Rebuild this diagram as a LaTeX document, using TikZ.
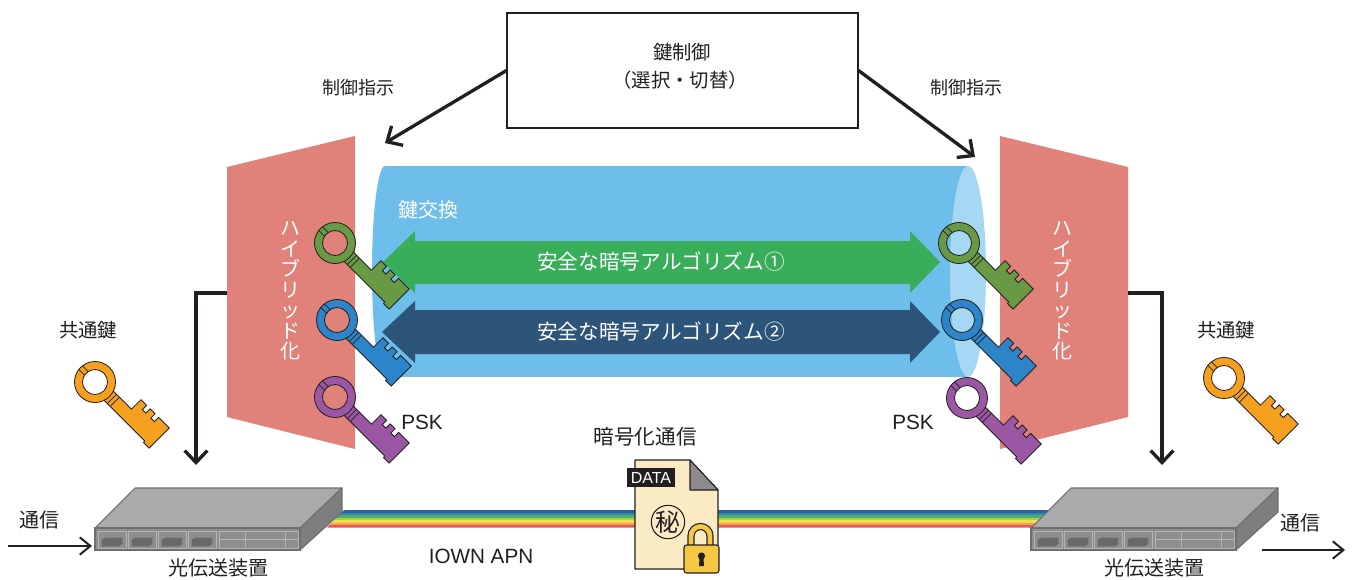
\documentclass[tikz,border=0pt]{standalone}
\usepackage{fontspec}
\setmainfont{Liberation Sans}
\newfontfamily\jp{Noto Sans CJK JP}
\usetikzlibrary{arrows.meta}

\definecolor{ink}{HTML}{231F20}
\definecolor{hybrid}{HTML}{E0817A}
\definecolor{tube}{HTML}{6DBEEA}
\definecolor{tubeend}{HTML}{A6D8F3}
\definecolor{algoA}{HTML}{38AE5B}
\definecolor{algoB}{HTML}{2D5479}
\definecolor{keygreen}{HTML}{689A45}
\definecolor{keyblue}{HTML}{2C85C8}
\definecolor{keypurple}{HTML}{9B57A4}
\definecolor{keyorange}{HTML}{F5A01F}
\definecolor{devtop}{HTML}{AAA9AB}
\definecolor{devfront}{HTML}{8E8D90}
\definecolor{devside}{HTML}{7E7D80}
\definecolor{devline}{HTML}{6E6E70}
\definecolor{devport}{HTML}{69686B}
\definecolor{devgrid}{HTML}{B4B3B6}
\definecolor{paper}{HTML}{FBEBC4}
\definecolor{fold}{HTML}{8C8C8C}
\definecolor{lockgold}{HTML}{F4C842}
\definecolor{fbA}{HTML}{2F5FA8}
\definecolor{fbB}{HTML}{2E8FA2}
\definecolor{fbC}{HTML}{4DAE68}
\definecolor{fbD}{HTML}{A9CF4F}
\definecolor{fbE}{HTML}{F0DF4A}
\definecolor{fbF}{HTML}{F3A447}
\definecolor{fbG}{HTML}{EA5470}

\tikzset{
  jplabel/.style={font=\jp\fontsize{14.5}{17}\selectfont, text=ink, inner sep=0pt},
  biglabel/.style={font=\jp\fontsize{15}{17}\selectfont, text=ink, inner sep=0pt},
  latinlabel/.style={font=\fontsize{15.5}{17}\selectfont, text=ink, inner sep=0pt},
  algotext/.style={font=\jp\fontsize{15.5}{17}\selectfont, text=white, inner sep=0pt},
  vtext/.style={font=\jp\fontsize{15}{15.4}\selectfont, text=white, inner sep=0pt, align=center},
  ctrlarrow/.style={draw=ink, line width=2.5pt, -{Straight Barb[length=9pt,width=17pt]}},
  flowarrow/.style={draw=ink, line width=1.5pt, -{Straight Barb[length=8pt,width=13pt]}},
  % a key: ring at the origin, blade along +x, teeth on the -y side
  pics/keyicon/.style={code={
    \filldraw[fill=#1, draw=ink, line width=0.6pt, line join=miter]
      (14,-6.5) -- (45,-6.5) -- (45,-20) -- (53,-20) -- (53,-14) -- (58,-14) -- (58,-20)
      -- (65,-20) -- (65,-14) -- (70,-14) -- (70,-20) -- (85,-20) -- (85,8.5)
      -- (77,8.5) -- (77,6.5) -- (14,6.5) -- cycle;
    \filldraw[fill=#1, draw=ink, line width=0.6pt, even odd rule]
      (0,0) circle[radius=20.5] (0,0) circle[radius=12.5];
    \draw[ink, line width=0.5pt] (24,-6.5) -- (24,6.5) (28,-6.5) -- (28,6.5)
      (-20.3,-2.5) -- (-12.3,-2.5) (-20.3,2.5) -- (-12.3,2.5);
  }},
  % optical transmission unit drawn at its left-hand position
  pics/transunit/.style={code={
    \filldraw[fill=devtop, draw=devline, line width=0.8pt, line join=round]
      (135,488) -- (342,488) -- (300,528) -- (95,528) -- cycle;
    \filldraw[fill=devside, draw=devline, line width=0.8pt, line join=round]
      (300,528) -- (342,488) -- (342,512) -- (300,550) -- cycle;
    \filldraw[fill=devfront, draw=devline, line width=0.8pt] (95,528) rectangle (300,550);
    \foreach \p in {0,1,2,3} {
      \filldraw[fill=devfront, draw=devgrid, line width=0.6pt]
        ({98+30*\p},531) rectangle ({126+30*\p},548);
      \filldraw[fill=devport, draw=devline, line width=0.4pt]
        ({102+30*\p},546) -- ({102+30*\p},540) -- ({105+30*\p},538) -- ({122+30*\p},538)
        -- ({122+30*\p},544) -- ({119+30*\p},546) -- cycle;
    }
    \draw[devgrid, line width=0.6pt] (219,531) rectangle (298,548)
      (219,539.5) -- (298,539.5) (245,531) -- (245,548) (285,531) -- (285,548);
  }}
}

\begin{document}
\begin{tikzpicture}[x=0.75pt,y=-0.75pt]
  \fill[white] (0,0) rectangle (1354,579);
  \useasboundingbox (0,0) rectangle (1354,579);

  % hybridisation panels
  \fill[hybrid] (227,167) -- (355,136) -- (355,449) -- (227,417) -- cycle;
  \fill[hybrid] (1000,136) -- (1128,167) -- (1128,417) -- (1000,449) -- cycle;
  \node[vtext] (hybLtxt) at (290,291) {ハ\\イ\\ブ\\リ\\ッ\\ド\\化};
  \node[vtext] (hybRtxt) at (1062,291) {ハ\\イ\\ブ\\リ\\ッ\\ド\\化};

  % key exchange tube
  \fill[tube] (385,271.5) ellipse[x radius=13, y radius=105.5];
  \fill[tube] (385,166) rectangle (968,377);
  \fill[tubeend] (968,271.5) ellipse[x radius=18, y radius=105.5];
  \node[biglabel, text=white, anchor=west] (kex) at (398,210) {鍵交換};

  % algorithm channels
  \fill[algoA] (383,262) -- (415,231) -- (415,241) -- (910,241) -- (910,231) -- (940,262)
    -- (910,293) -- (910,284) -- (415,284) -- (415,293) -- cycle;
  \fill[algoB] (382,332) -- (415,301) -- (415,310) -- (910,310) -- (910,301) -- (940,332)
    -- (910,363) -- (910,354) -- (415,354) -- (415,363) -- cycle;
  \node[algotext] (algo1) at (661,262) {安全な暗号アルゴリズム①};
  \node[algotext] (algo2) at (661,332) {安全な暗号アルゴリズム②};

  % keys
  \pic[rotate=-45] (kgL) at (335,243) {keyicon=keygreen};
  \pic[rotate=-45] (kbL) at (337,320) {keyicon=keyblue};
  \pic[rotate=-45] (kpL) at (335,397) {keyicon=keypurple};
  \pic[rotate=-45] (kgR) at (959,243) {keyicon=keygreen};
  \pic[rotate=-45] (kbR) at (962,320) {keyicon=keyblue};
  \pic[rotate=-45] (kpR) at (967,398) {keyicon=keypurple};
  \pic[rotate=-45] (koL) at (95,382) {keyicon=keyorange};
  \pic[rotate=-45] (koR) at (1224,378) {keyicon=keyorange};
  \node[latinlabel] (pskL) at (422,422) {PSK};
  \node[latinlabel] (pskR) at (913,422) {PSK};
  \node[jplabel] (sharedL) at (88,330) {共通鍵};
  \node[jplabel] (sharedR) at (1226,330) {共通鍵};

  % key control
  \node[draw=ink, line width=0.8pt, minimum width=263.25pt, minimum height=86.25pt, inner sep=0pt]
    (ctrl) at (682.5,70.5) {};
  \node[jplabel] (ctrlT1) at (682,52) {鍵制御};
  \node[jplabel] (ctrlT2) at (680,80) {（選択・切替）};
  \node[jplabel, font=\jp\fontsize{13.5}{16}\selectfont] (cmdL) at (358,88) {制御指示};
  \node[jplabel, font=\jp\fontsize{13.5}{16}\selectfont] (cmdR) at (966,88) {制御指示};
  \coordinate (ctrlLtip) at (385,143);
  \coordinate (ctrlRtip) at (975,157);
  \draw[ctrlarrow] (ctrl.west) -- (ctrlLtip);
  \draw[ctrlarrow] (ctrl.east) -- (ctrlRtip);

  % hybrid key output down to the units
  \coordinate (hybLout) at (227,293);
  \coordinate (hybRout) at (1128,293);
  \coordinate (unitLin) at (196,465);
  \coordinate (unitRin) at (1162,465);
  \draw[ctrlarrow, line join=miter] (hybLout) -| (unitLin);
  \draw[ctrlarrow, line join=miter] (hybRout) -| (unitRin);

  % optical fibre
  \begin{scope}
    \clip (327,527.5) -- (344,510) -- (1060,510) -- (1060,527.5) -- cycle;
    \foreach \c [count=\i from 0] in {fbA,fbB,fbC,fbD,fbE,fbF,fbG}
      \fill[\c] (320,{510+2.5*\i}) rectangle (1070,{512.7+2.5*\i});
  \end{scope}

  % transmission units
  \pic (unitL) at (0,0) {transunit};
  \pic (unitR) at (936,0) {transunit};
  \node[biglabel] (unitLlbl) at (218,568) {光伝送装置};
  \node[biglabel] (unitRlbl) at (1154,568) {光伝送装置};

  % traffic in and out
  \node[biglabel] (commIn) at (40,520) {通信};
  \node[biglabel] (commOut) at (1300,523) {通信};
  \coordinate (inStart) at (8,546);
  \coordinate (inEnd) at (92,546);
  \coordinate (outStart) at (1262,550);
  \coordinate (outEnd) at (1345,550);
  \draw[flowarrow] (inStart) -- (inEnd);
  \draw[flowarrow] (outStart) -- (outEnd);
  \node[latinlabel] (apn) at (481,556) {IOWN APN};

  % encrypted data sheet
  \node[biglabel, font=\jp\fontsize{15.5}{17}\selectfont] (enc) at (645,437) {暗号化通信};
  \filldraw[fill=paper, draw=ink, line width=0.8pt, line join=round]
    (635,460) -- (690,460) -- (718,490) -- (718,569) -- (635,569) -- cycle;
  \filldraw[fill=fold, draw=ink, line width=0.8pt, line join=round]
    (690,460) -- (718,490) -- (690,490) -- cycle;
  \node[fill=ink, text=white, font=\fontsize{12}{13}\selectfont, minimum width=36pt,
    minimum height=14.25pt, inner sep=0pt] (datatag) at (651,477.5) {DATA};
  \node[draw=ink, circle, line width=0.8pt, minimum size=24pt, inner sep=0pt,
    font=\jp\fontsize{18.5}{18.5}\selectfont, text=ink] (secret) at (668,522) {秘};
  % padlock
  \draw[ink, line width=5.4pt] (691,547) -- (691,536) arc[start angle=180, end angle=360, radius=9.5] -- (710,547);
  \draw[lockgold, line width=3.6pt] (691,547) -- (691,536) arc[start angle=180, end angle=360, radius=9.5] -- (710,547);
  \filldraw[fill=lockgold, draw=ink, line width=0.8pt, rounded corners=2pt] (684,545) rectangle (719,573);
  \fill[ink] (701.5,556) circle[radius=3.6];
  \fill[ink] (699.6,557) -- (703.4,557) -- (704,566) -- (699,566) -- cycle;
\end{tikzpicture}
\end{document}
